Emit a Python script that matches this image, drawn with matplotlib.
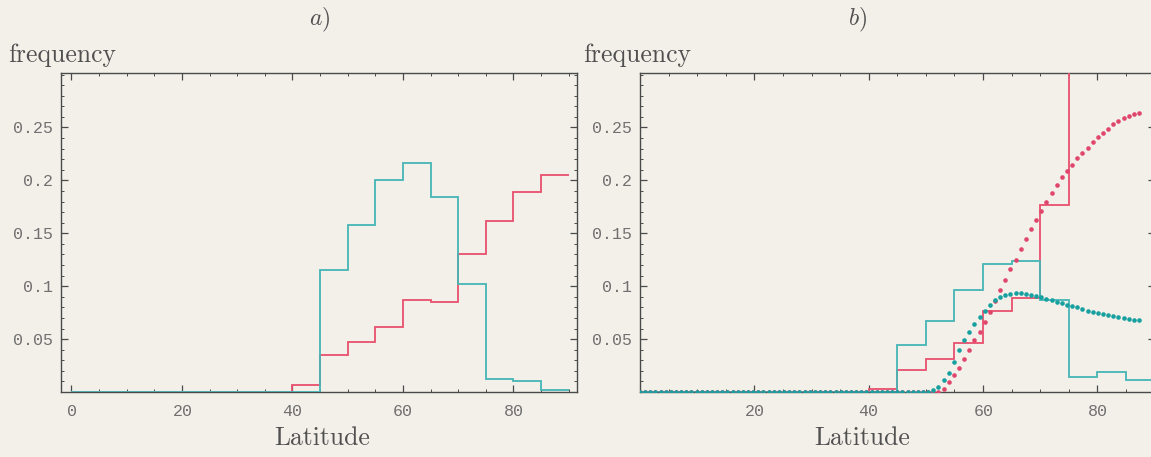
import numpy as np
import matplotlib
matplotlib.use("Agg")
import matplotlib.pyplot as plt
from matplotlib.ticker import MultipleLocator, FixedLocator

plt.rcParams['mathtext.fontset'] = 'cm'
plt.rcParams['axes.formatter.use_mathtext'] = True

# ---------------- data ----------------
bin_edges = [0, 5, 10, 15, 20, 25, 30, 35, 40, 45, 50, 55, 60, 65, 70, 75, 80, 85, 90]

# panel a) histograms
a_red = [0, 0, 0, 0, 0, 0, 0, 0, 0.007, 0.035, 0.047, 0.061, 0.087, 0.085, 0.130, 0.162, 0.189, 0.205]
a_cyan = [0, 0, 0, 0, 0, 0, 0, 0, 0, 0.115, 0.158, 0.200, 0.216, 0.184, 0.102, 0.012, 0.010, 0.002]

# panel b) histograms (red bins beyond 75 run off the top of the plot)
b_red = [0, 0, 0, 0, 0, 0, 0, 0, 0.003, 0.021, 0.031, 0.046, 0.077, 0.089, 0.177, 0.33, 0.36, 0.38]
b_cyan = [0, 0, 0, 0, 0, 0, 0, 0, 0, 0.044, 0.067, 0.096, 0.121, 0.124, 0.087, 0.014, 0.019, 0.011]

# panel b) dotted model curves (zero below ~50 deg latitude)
dot_lat_zero = np.round(np.arange(0.0, 50.0, 0.9), 1)
dot_lat_tail = [50.4, 51.3, 52.2, 53.1, 54.0, 54.9, 55.8, 56.7, 57.6, 58.5, 59.4, 60.3,
                61.2, 62.1, 63.0, 63.9, 64.8, 65.7, 66.6, 67.5, 68.4, 69.3, 70.2, 71.1,
                72.0, 72.9, 73.8, 74.7, 75.6, 76.5, 77.4, 78.3, 79.2, 80.1, 81.0, 81.9,
                82.8, 83.7, 84.6, 85.5, 86.4, 87.3]
red_dots_tail = [0.000, 0.000, 0.000, 0.003, 0.009, 0.016, 0.023, 0.031, 0.040, 0.049,
                 0.057, 0.066, 0.076, 0.086, 0.096, 0.106, 0.116, 0.125, 0.135, 0.145,
                 0.154, 0.163, 0.171, 0.180, 0.188, 0.196, 0.203, 0.209, 0.215, 0.221,
                 0.226, 0.231, 0.236, 0.241, 0.245, 0.249, 0.253, 0.256, 0.259, 0.261,
                 0.263, 0.264]
cyan_dots_tail = [0.000, 0.002, 0.005, 0.011, 0.018, 0.028, 0.040, 0.049, 0.057, 0.064,
                  0.071, 0.077, 0.082, 0.087, 0.090, 0.092, 0.093, 0.094, 0.094, 0.093,
                  0.092, 0.091, 0.090, 0.088, 0.087, 0.085, 0.084, 0.082, 0.081, 0.080,
                  0.078, 0.077, 0.076, 0.075, 0.074, 0.073, 0.072, 0.071, 0.070, 0.069,
                  0.068, 0.068]

x_ticks_a = [0, 20, 40, 60, 80]
x_ticks_b = [20, 40, 60, 80]
y_ticks = [0.05, 0.1, 0.15, 0.2, 0.25]
y_ticklabels = ["0.05", "0.1", "0.15", "0.2", "0.25"]

# ---------------- style ----------------
BG = '#f3f0ea'
RED = '#e8506e'
CYAN = '#45b5b5'
RED_DOT = '#e0456c'
CYAN_DOT = '#17a0a0'
SPINE = '#4a4a4a'
TICKLBL = '#707070'
TEXT = '#505050'

W, H = 1151, 457
fig = plt.figure(figsize=(W / 100, H / 100), dpi=100, facecolor=BG)


def px_axes(left, right, top, bottom):
    return fig.add_axes([left / W, 1 - bottom / H, (right - left) / W, (bottom - top) / H])


ax_a = px_axes(61, 577, 73, 392)
ax_b = px_axes(640, 1154.5, 73, 392)

for ax in (ax_a, ax_b):
    ax.set_facecolor(BG)
    for s in ax.spines.values():
        s.set_color(SPINE)
        s.set_linewidth(1.0)
    ax.set_ylim(0, 0.3015)
    ax.yaxis.set_major_locator(FixedLocator(y_ticks))
    ax.set_yticklabels(y_ticklabels)
    ax.yaxis.set_minor_locator(MultipleLocator(0.01))
    ax.xaxis.set_minor_locator(MultipleLocator(5))
    ax.tick_params(which='both', direction='in', top=True, right=True, color=SPINE)
    ax.tick_params(which='major', length=5, width=0.9)
    ax.tick_params(which='minor', length=2.5, width=0.7)
    ax.tick_params(axis='x', which='major', pad=9)
    ax.tick_params(axis='y', which='major', pad=6)
    for lbl in ax.get_xticklabels() + ax.get_yticklabels():
        pass

ax_a.set_xlim(-1.9, 91.5)
ax_a.set_xticks(x_ticks_a)
ax_b.set_xlim(0, 90)
ax_b.set_xticks(x_ticks_b)

for ax in (ax_a, ax_b):
    for lbl in ax.get_xticklabels() + ax.get_yticklabels():
        lbl.set_family('Liberation Mono')
        lbl.set_fontsize(12)
        lbl.set_color(TICKLBL)

# panel a
ax_a.stairs(a_red, bin_edges, baseline=None, color=RED, lw=1.3, zorder=3)
ax_a.stairs(a_cyan, bin_edges, baseline=None, color=CYAN, lw=1.3, zorder=3)

# panel b
ax_b.stairs(b_red, bin_edges, baseline=None, color=RED, lw=1.3, zorder=3)
ax_b.stairs(b_cyan, bin_edges, baseline=None, color=CYAN, lw=1.3, zorder=3)

dot_lat = np.concatenate([dot_lat_zero, dot_lat_tail])
red_dots = np.concatenate([np.zeros(len(dot_lat_zero)), red_dots_tail])
cyan_dots = np.concatenate([np.zeros(len(dot_lat_zero)), cyan_dots_tail])
ax_b.plot(dot_lat, red_dots, ls='none', marker='o', ms=3.3, mec='none', mfc=RED_DOT, zorder=4)
ax_b.plot(dot_lat, cyan_dots, ls='none', marker='o', ms=3.3, mec='none', mfc=CYAN_DOT, zorder=4)

# texts
serif = 'cmr10'
fig.text(8 / W, 1 - 55 / H, 'frequency', family=serif, fontsize=18.5, color=TEXT, ha='left', va='center')
fig.text(583 / W, 1 - 55 / H, 'frequency', family=serif, fontsize=18.5, color=TEXT, ha='left', va='center')
fig.text(322 / W, 1 - 438 / H, 'Latitude', family=serif, fontsize=18.5, color=TEXT, ha='center', va='center')
fig.text(862 / W, 1 - 438 / H, 'Latitude', family=serif, fontsize=18.5, color=TEXT, ha='center', va='center')
fig.text(320 / W, 1 - 20 / H, r'$a)$', fontsize=17, color=TEXT, ha='center', va='center')
fig.text(858 / W, 1 - 20 / H, r'$b)$', fontsize=17, color=TEXT, ha='center', va='center')

fig.savefig('out.png', dpi=100, facecolor=BG)
